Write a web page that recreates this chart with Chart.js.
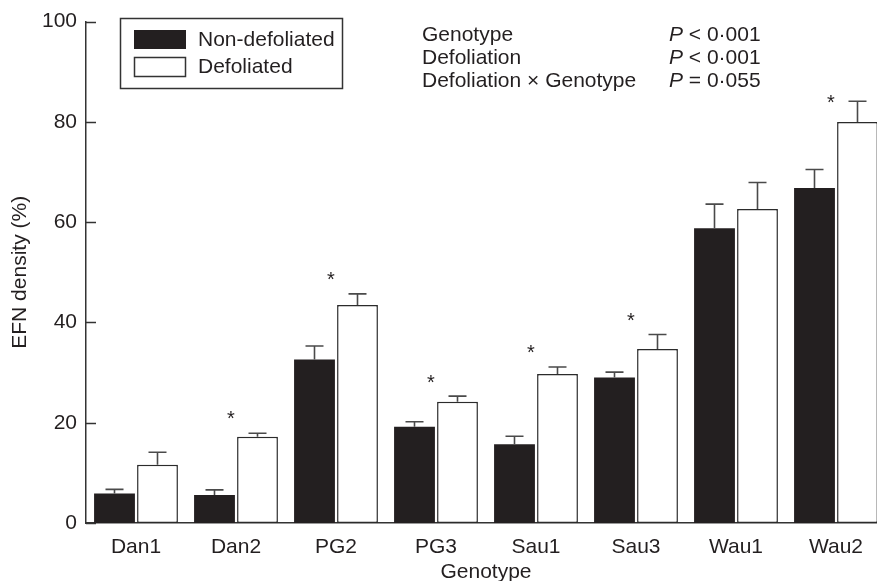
<!DOCTYPE html>
<html>
<head>
<meta charset="utf-8">
<script src="https://cdn.jsdelivr.net/npm/chart.js@4/dist/chart.umd.min.js"></script>
<style>
  html, body { margin: 0; padding: 0; background: #fff; overflow: hidden; }
  #wrap { width: 900px; height: 581px; }
</style>
</head>
<body>
<div id="wrap"><canvas id="efn-chart" width="900" height="581"></canvas></div>
<script>
// values (EFN density, %)
const categories = ['Dan1', 'Dan2', 'PG2', 'PG3', 'Sau1', 'Sau3', 'Wau1', 'Wau2'];
const nonDefoliated = [5.9, 5.6, 32.6, 19.2, 15.7, 29.0, 58.8, 66.8];
const nonDefoliatedErr = [0.8, 1.0, 2.7, 1.0, 1.6, 1.1, 4.8, 3.7];
const defoliated = [11.6, 17.2, 43.5, 24.2, 29.7, 34.7, 62.6, 80.0];
const defoliatedErr = [2.5, 0.7, 2.2, 1.1, 1.4, 2.9, 5.3, 4.1];
const starLevels = [null, 21.9, 49.5, 29.1, 35.1, 41.4, null, 84.9];
const yTicks = [0, 20, 40, 60, 80, 100];
const statTerms = ['Genotype', 'Defoliation', 'Defoliation \u00d7 Genotype'];
const statValues = [' < 0\u00b7001', ' < 0\u00b7001', ' = 0\u00b7055'];

const FONT = '"Liberation Sans", Arial, Helvetica, sans-serif';
const SIZE = 21;
const INK = '#231f20';
const LINE = '#333333';

let errs = [nonDefoliatedErr, defoliatedErr];

// error bars, inward y ticks, significance stars
let extras = {
  id: 'extras',
  afterDatasetsDraw(chart) {
    let c = chart.ctx, y = chart.scales.y, x = chart.scales.x;
    c.save();
    c.strokeStyle = '#4a4a4a';
    c.lineWidth = 1.6;
    chart.data.datasets.forEach((ds, i) => {
      chart.getDatasetMeta(i).data.forEach((bar, j) => {
        let top = y.getPixelForValue(ds.data[j] + errs[i][j]);
        c.beginPath();
        c.moveTo(bar.x, bar.y);
        c.lineTo(bar.x, top);
        c.moveTo(bar.x - 9, top);
        c.lineTo(bar.x + 9, top);
        c.stroke();
      });
    });
    // ticks pointing into the plot
    c.strokeStyle = LINE;
    c.lineWidth = 1.5;
    let left = chart.chartArea.left;
    yTicks.forEach(v => {
      let py = Math.round(y.getPixelForValue(v)) + 0.5;
      c.beginPath();
      c.moveTo(left, py);
      c.lineTo(left + 10, py);
      c.stroke();
    });
    // stars
    c.fillStyle = INK;
    c.font = '20px ' + FONT;
    c.textAlign = 'center';
    c.textBaseline = 'alphabetic';
    starLevels.forEach((v, j) => {
      if (v == null) return;
      c.fillText('*', x.getPixelForValue(j) - 5, y.getPixelForValue(v) + 11.5);
    });
    c.restore();
  },
  afterDraw(chart) {
    let c = chart.ctx;
    c.save();
    // legend box
    c.strokeStyle = LINE;
    c.lineWidth = 1.5;
    c.strokeRect(120.5, 18.5, 222, 70);
    c.fillStyle = INK;
    c.fillRect(134, 30, 52, 19);
    c.strokeRect(134.5, 57.5, 51, 19);
    c.font = SIZE + 'px ' + FONT;
    c.textBaseline = 'middle';
    c.textAlign = 'left';
    c.fillText(chart.data.datasets[0].label, 198, 40);
    c.fillText(chart.data.datasets[1].label, 198, 67);
    // statistics
    c.textBaseline = 'alphabetic';
    statTerms.forEach((t, k) => {
      let by = 41 + k * 23;
      c.font = SIZE + 'px ' + FONT;
      c.fillText(t, 422, by);
      c.font = 'italic ' + SIZE + 'px ' + FONT;
      c.fillText('P', 669, by);
      let w = c.measureText('P').width;
      c.font = SIZE + 'px ' + FONT;
      c.fillText(statValues[k], 669 + w, by);
    });
    c.restore();
  }
};

let efnChart = new Chart(document.getElementById('efn-chart'), {
  type: 'bar',
  data: {
    labels: categories,
    datasets: [{
      label: 'Non-defoliated',
      data: nonDefoliated,
      backgroundColor: INK,
      borderColor: INK,
      borderWidth: 0,
      categoryPercentage: 0.86,
      barPercentage: 0.95
    }, {
      label: 'Defoliated',
      data: defoliated,
      backgroundColor: '#ffffff',
      borderColor: '#2b2b2b',
      borderWidth: 1.5,
      borderSkipped: false,
      categoryPercentage: 0.86,
      barPercentage: 0.95
    }]
  },
  options: {
    responsive: false,
    animation: false,
    layout: { padding: { top: 21, right: 14, left: 0, bottom: 0 } },
    plugins: {
      legend: { display: false },
      tooltip: { enabled: false }
    },
    scales: {
      x: {
        grid: { display: false, drawTicks: false },
        border: { display: true, color: LINE, width: 1.5 },
        ticks: { color: INK, padding: 12, font: { family: FONT, size: SIZE } },
        title: { display: true, text: 'Genotype', color: INK, padding: { top: 0, bottom: -4 }, font: { family: FONT, size: SIZE } },
        afterFit: s => { s.height = 58; }
      },
      y: {
        min: 0,
        max: 100,
        afterBuildTicks: s => { s.ticks = yTicks.map(v => ({ value: v })); },
        grid: { display: false, drawTicks: false },
        border: { display: true, color: LINE, width: 1.5 },
        ticks: { color: INK, padding: 9, font: { family: FONT, size: SIZE } },
        title: { display: true, text: 'EFN density (%)', color: INK, padding: { top: 8, bottom: 0 }, font: { family: FONT, size: SIZE } },
        afterFit: s => { s.width = 86; }
      }
    }
  },
  plugins: [extras]
});
</script>
</body>
</html>
